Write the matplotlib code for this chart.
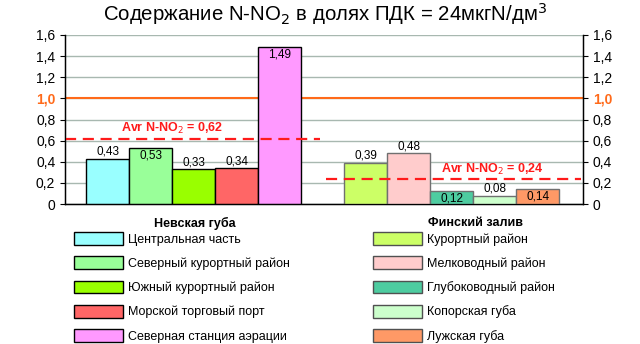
import numpy as np
import matplotlib
matplotlib.use('Agg')
import matplotlib.pyplot as plt
from matplotlib.patches import Patch

plt.rcParams['font.family'] = ['Liberation Sans', 'DejaVu Sans']

# Данные
neva_names = ['Центральная часть', 'Северный курортный район', 'Южный курортный район',
              'Морской торговый порт', 'Северная станция аэрации']
neva_vals = [0.43, 0.53, 0.33, 0.34, 1.49]
neva_colors = ['#99ffff', '#99ff99', '#99ff00', '#ff6666', '#ff99ff']
neva_avg = 0.62

fin_names = ['Курортный район', 'Мелководный район', 'Глубоководный район',
             'Копорская губа', 'Лужская губа']
fin_vals = [0.39, 0.48, 0.12, 0.08, 0.14]
fin_colors = ['#ccff66', '#ffcccc', '#4dcca0', '#ccffcc', '#ff9966']
fin_avg = 0.24

# метки внутри столбца (True) или над ним
neva_inside = [False, True, False, False, True]
fin_inside = [False, False, True, False, True]

pdk_level = 1.0
yticks = [0, 0.2, 0.4, 0.6, 0.8, 1.0, 1.2, 1.4, 1.6]

fig = plt.figure(figsize=(6.4, 3.44), dpi=100)
ax = fig.add_axes([65 / 640, 1 - 204 / 344, 518 / 640, 169 / 344])

x1 = np.arange(1, 6)
x2 = np.arange(7, 12)

ax.bar(x1, neva_vals, width=1.0, color=neva_colors, edgecolor='black', linewidth=1, zorder=3)
ax.bar(x2, fin_vals, width=1.0, color=fin_colors, edgecolor='#707070', linewidth=1, zorder=3)


def fmt(v):
    return f'{v:.2f}'.replace('.', ',')


for xs, vals, inside in [(x1, neva_vals, neva_inside), (x2, fin_vals, fin_inside)]:
    for x, v, ins in zip(xs, vals, inside):
        if ins:
            ax.text(x, v - 0.015, fmt(v), ha='center', va='top', fontsize=8.5, zorder=5)
        else:
            ax.text(x, v + 0.01, fmt(v), ha='center', va='bottom', fontsize=8.5, zorder=5)

# линия ПДК
ax.axhline(pdk_level, color='#ff6a1a', lw=1.5, zorder=2)

# средние
ax.plot([0, 5.93], [neva_avg, neva_avg], color='#ff1a1a', lw=1.6, ls=(0, (5, 3)), zorder=4)
ax.plot([6.07, 12], [fin_avg, fin_avg], color='#ff1a1a', lw=1.6, ls=(0, (5, 3)), zorder=4)
ax.text(2.5, neva_avg + 0.025, 'Avr N-NO$_2$ = ' + fmt(neva_avg), color='#ff1a1a',
        fontsize=9, fontweight='bold', ha='center', va='bottom', zorder=5)
ax.text(9.95, fin_avg + 0.012, 'Avr N-NO$_2$ = ' + fmt(fin_avg), color='#ff1a1a',
        fontsize=9, fontweight='bold', ha='center', va='bottom', zorder=5)

ax.set_xlim(0, 12.05)
ax.set_ylim(0, 1.6)
ax.set_yticks(yticks)
ax.set_yticklabels(['0' if t == 0 else f'{t:.1f}'.replace('.', ',') for t in yticks], fontsize=10)
ax.set_xticks([])
ax.grid(axis='y', color='#a8b8b0', lw=1, zorder=0)
ax.spines['top'].set_visible(False)
for s in ['left', 'right', 'bottom']:
    ax.spines[s].set_linewidth(1)

ax2 = ax.twinx()
ax2.set_ylim(0, 1.6)
ax2.set_yticks(yticks)
ax2.set_yticklabels(['0' if t == 0 else f'{t:.1f}'.replace('.', ',') for t in yticks], fontsize=10)
ax2.spines['top'].set_visible(False)
for a in (ax, ax2):
    lab = a.get_yticklabels()[5]
    lab.set_color('#ff6a1a')
    lab.set_fontweight('bold')

fig.text(325 / 640, 1 - 14 / 344, 'Содержание N-NO$_2$ в долях ПДК = 24мкгN/дм$^3$',
         ha='center', va='center', fontsize=14.7)

# легенды
for names, colors, ec, title, xleft, xtitle in [
        (neva_names, neva_colors, 'black', 'Невская губа', 74 / 640, 195 / 640),
        (fin_names, fin_colors, '#505050', 'Финский залив', 373 / 640, 475 / 640)]:
    fig.text(xtitle, 1 - 223 / 344, title, ha='center', va='center',
             fontsize=9, fontweight='bold')
    handles = [Patch(facecolor=c, edgecolor=ec, lw=1) for c in colors]
    fig.legend(handles, names, loc='upper left', bbox_to_anchor=(xleft, 1 - 232 / 344),
               frameon=False, fontsize=9, handlelength=3.9, handleheight=1.2,
               labelspacing=0.85, handletextpad=0.4, borderpad=0, borderaxespad=0)

fig.savefig('out.png', dpi=100)
